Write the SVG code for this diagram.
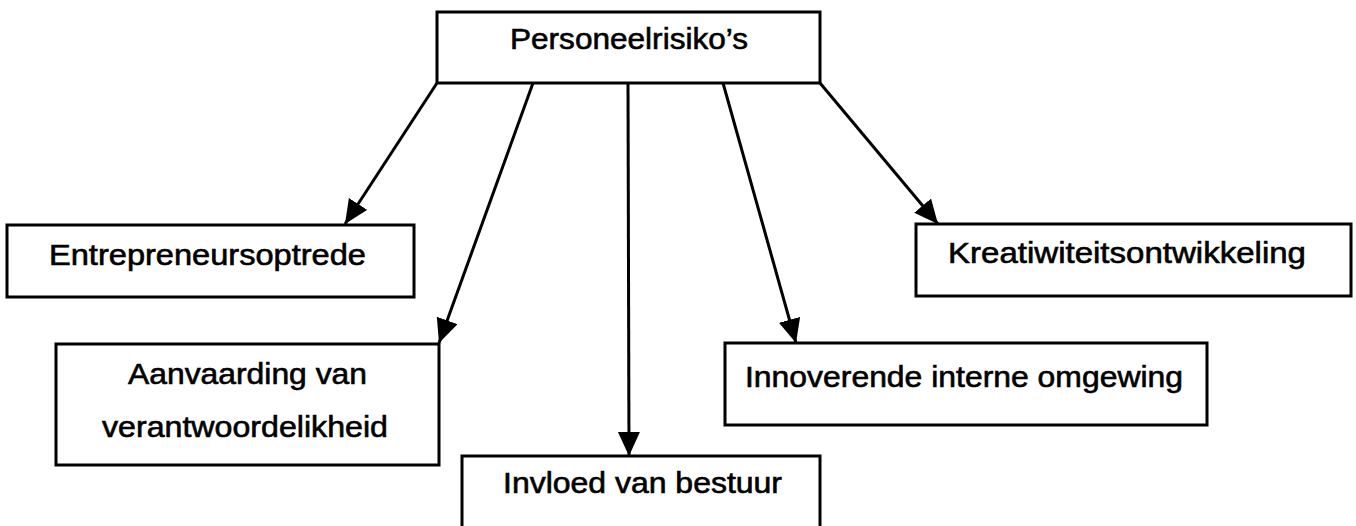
<svg xmlns="http://www.w3.org/2000/svg" width="1356" height="526" viewBox="0 0 1356 526">
  <style>
    .box { fill: #ffffff; stroke: #000000; stroke-width: 3; }
    .lbl { font-family: "Liberation Sans", Arial, sans-serif; font-size: 29px; fill: #000000; stroke: #000000; stroke-width: 0.6; }
    .edge { fill: none; stroke: #000000; stroke-width: 3; }
  </style>
  <defs>
    <marker id="arrow" markerUnits="userSpaceOnUse" markerWidth="26" markerHeight="24" refX="24" refY="11" orient="auto">
      <path d="M0,0 L24,11 L0,22 Z" fill="#000000"/>
    </marker>
  </defs>
  <rect width="1356" height="526" fill="#ffffff"/>

  <!-- links from the root box to each risk area -->
  <g id="connectors">
    <path class="edge" d="M437,83 L345,224" marker-end="url(#arrow)"/>
    <path class="edge" d="M533,83 L439,343" marker-end="url(#arrow)"/>
    <path class="edge" d="M628,83 L629,456" marker-end="url(#arrow)"/>
    <path class="edge" d="M723,83 L796,343" marker-end="url(#arrow)"/>
    <path class="edge" d="M820,83 L938,224" marker-end="url(#arrow)"/>
  </g>

  <g id="personeelrisikos">
    <rect class="box" x="437" y="12" width="383" height="71"/>
    <text class="lbl" x="510" y="49" textLength="238" lengthAdjust="spacingAndGlyphs">Personeelrisiko’s</text>
  </g>

  <g id="entrepreneursoptrede">
    <rect class="box" x="7" y="225" width="407" height="72"/>
    <text class="lbl" x="49" y="265" textLength="317" lengthAdjust="spacingAndGlyphs">Entrepreneursoptrede</text>
  </g>

  <g id="aanvaarding">
    <rect class="box" x="56" y="344" width="383" height="121"/>
    <text class="lbl" x="128" y="384" textLength="239" lengthAdjust="spacingAndGlyphs">Aanvaarding van</text>
    <text class="lbl" x="102" y="437" textLength="286" lengthAdjust="spacingAndGlyphs">verantwoordelikheid</text>
  </g>

  <g id="invloed">
    <rect class="box" x="462" y="456" width="358" height="90"/>
    <text class="lbl" x="503" y="493" textLength="279" lengthAdjust="spacingAndGlyphs">Invloed van bestuur</text>
  </g>

  <g id="innoverende">
    <rect class="box" x="725" y="343" width="482" height="82"/>
    <text class="lbl" x="745" y="387" textLength="438" lengthAdjust="spacingAndGlyphs">Innoverende interne omgewing</text>
  </g>

  <g id="kreatiwiteit">
    <rect class="box" x="916" y="224" width="435" height="72"/>
    <text class="lbl" x="948" y="263" textLength="358" lengthAdjust="spacingAndGlyphs">Kreatiwiteitsontwikkeling</text>
  </g>
</svg>
